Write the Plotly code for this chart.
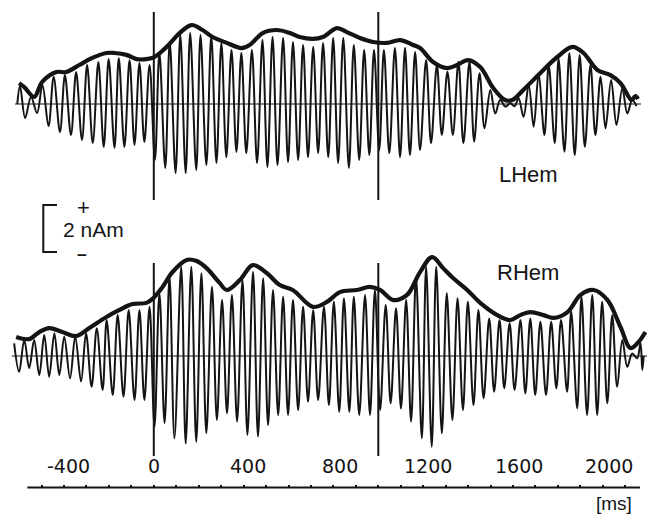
import plotly.graph_objects as go

# ---------------- data (time in ms, amplitude in nAm) ----------------
lh_t = [-608, -596, -573, -547, -520, -496, -469, -446, -418, -396, -369, -346, -320, -297,
        -272, -247, -223, -201, -175, -156, -131, -108, -86, -64, -42, -19, 5, 25, 51, 71,
        97, 118, 142, 162, 189, 208, 234, 256, 279, 301, 323, 346, 368, 390, 412, 437,
        460, 484, 506, 529, 551, 576, 598, 620, 643, 665, 687, 710, 732, 754, 777, 799,
        821, 844, 869, 891, 915, 937, 960, 981, 1004, 1025, 1049, 1074, 1097, 1119, 1141,
        1164, 1186, 1213, 1235, 1261, 1283, 1308, 1332, 1357, 1379, 1406, 1427, 1451,
        1473, 1499, 1521, 1543, 1566, 1588, 1607, 1625, 1647, 1670, 1692, 1714, 1740,
        1759, 1786, 1803, 1829, 1851, 1875, 1897, 1920, 1945, 1967, 1990, 2012, 2037,
        2061, 2087, 2109, 2131, 2150]
lh_v = [0, 0.77, -0.60, 0.30, -0.38, 0.81, -0.94, 1.15, -1.19, 1.23, -1.32, 1.36, -1.53, 1.66,
        -1.66, 1.79, -1.83, 1.91, -1.87, 1.96, -1.83, 1.87, -1.74, 1.74, -1.62, 1.66, -2.38,
        2.17, -2.72, 2.64, -2.94, 2.94, -2.94, 3.02, -2.81, 2.94, -2.60, 2.89, -2.51, 2.60,
        -2.26, 2.30, -2.04, 2.17, -2.09, 2.30, -2.51, 2.72, -2.68, 2.85, -2.60, 2.81, -2.47,
        2.64, -2.38, 2.51, -2.26, 2.43, -2.09, 2.60, -2.26, 2.81, -2.51, 2.81, -2.72, 2.51,
        -2.38, 2.30, -2.17, 2.30, -1.96, 2.30, -2.09, 2.38, -2.26, 2.38, -2.17, 2.21, -1.96,
        1.87, -1.67, 1.66, -1.32, 1.37, -1.32, 1.80, -1.67, 1.80, -1.60, 1.31, -1.03, 0.60,
        -0.40, 0.17, -0.11, 0.03, -0.09, 0.24, -0.54, 0.81, -0.97, 1.23, -1.32, 1.66, -1.67,
        1.94, -2.03, 2.16, -2.17, 2.09, -1.82, 1.66, -1.32, 1.16, -1.03, 1.02, -0.89, 0.67,
        -0.40, 0.17, -0.09]

lh_env_t = [-600, -577, -533, -497, -434, -390, -332, -274, -211, -175, -122, -77, -33, 3,
            57, 115, 168, 217, 262, 325, 391, 427, 485, 548, 606, 650, 709, 753, 816, 860,
            918, 977, 1039, 1097, 1155, 1186, 1244, 1307, 1351, 1400, 1454, 1512, 1565,
            1597, 1646, 1722, 1797, 1865, 1914, 1976, 2034, 2079, 2128, 2145, 2157]
lh_env_v = [0.89, 0.72, 0.30, 0.94, 1.36, 1.36, 1.66, 1.96, 2.17, 2.17, 2.09, 1.91, 1.91, 2.00,
            2.43, 3.02, 3.36, 3.15, 2.85, 2.60, 2.38, 2.51, 3.02, 3.15, 3.02, 2.85, 2.77, 2.85,
            3.23, 3.06, 2.81, 2.64, 2.60, 2.72, 2.51, 2.38, 1.79, 1.53, 1.66, 1.87, 1.57, 0.68,
            0.17, 0.17, 0.60, 1.32, 2.00, 2.43, 2.17, 1.45, 1.23, 0.89, 0.17, 0.34, 0.21]

rh_t = [-622, -600, -577, -555, -533, -510, -488, -466, -443, -421, -399, -373, -350, -324,
        -302, -277, -254, -228, -210, -183, -161, -135, -112, -86, -64, -42, -19, 3, 25, 48,
        70, 92, 122, 142, 167, 189, 212, 234, 259, 281, 304, 326, 348, 371, 395, 417, 442,
        464, 487, 509, 531, 554, 576, 598, 620, 643, 665, 687, 710, 732, 758, 780, 802, 826,
        847, 871, 891, 915, 941, 963, 985, 1008, 1033, 1055, 1079, 1101, 1124, 1146, 1168,
        1194, 1213, 1238, 1258, 1283, 1305, 1330, 1353, 1377, 1399, 1424, 1446, 1469, 1494,
        1516, 1540, 1561, 1585, 1607, 1633, 1655, 1677, 1699, 1722, 1747, 1770, 1793, 1814,
        1841, 1859, 1886, 1905, 1930, 1953, 1975, 1997, 2020, 2042, 2064, 2087, 2109, 2131,
        2153, 2168, 2176, 2182]
rh_v = [0.54, -0.67, 0.68, -0.52, 0.68, -0.81, 0.89, -0.88, 0.97, -0.81, 0.82, -0.95, 0.82,
        -1.09, 0.97, -1.31, 1.18, -1.45, 1.53, -1.66, 1.74, -1.73, 1.96, -1.87, 1.96, -1.87,
        2.10, -3.01, 2.67, -2.86, 3.37, -3.50, 3.80, -3.72, 3.80, -3.65, 3.52, -3.29, 2.95,
        -2.72, 2.38, -2.44, 2.60, -2.79, 3.23, -3.36, 3.59, -3.43, 3.31, -2.94, 2.81, -2.51,
        2.52, -2.51, 2.38, -2.30, 2.10, -1.94, 1.96, -1.87, 2.10, -2.09, 2.31, -2.37, 2.46,
        -2.37, 2.52, -2.51, 2.60, -2.51, 2.81, -2.30, 2.17, -2.01, 2.03, -2.23, 2.38, -2.79,
        3.37, -3.50, 3.80, -3.86, 3.80, -3.29, 2.67, -2.72, 2.46, -2.30, 2.31, -2.09, 1.96,
        -1.80, 1.60, -1.52, 1.53, -1.37, 1.39, -1.45, 1.53, -1.59, 1.60, -1.66, 1.46, -1.66,
        1.46, -1.37, 1.53, -1.52, 1.89, -2.23, 2.52, -2.51, 2.60, -2.51, 2.31, -2.01, 1.74,
        -1.31, 0.68, -0.46, 0.11, -0.10, 0.54, -0.60, 0.0]

rh_env_t = [-613, -555, -510, -466, -408, -345, -287, -211, -153, -95, -33, -6, 39, 83, 146,
            191, 235, 293, 325, 383, 441, 503, 561, 619, 709, 771, 829, 905, 963, 1008, 1066,
            1128, 1186, 1240, 1289, 1333, 1396, 1454, 1530, 1588, 1632, 1677, 1736, 1780,
            1843, 1901, 1959, 2021, 2079, 2123, 2155, 2190]
rh_env_v = [0.81, 0.72, 1.02, 1.19, 1.02, 0.85, 1.19, 1.66, 1.96, 2.21, 2.26, 2.43, 2.94, 3.57,
            4.09, 4.04, 3.74, 3.11, 2.81, 3.23, 3.87, 3.53, 3.02, 2.81, 2.09, 2.30, 2.72, 2.81,
            2.94, 2.81, 2.38, 2.60, 3.57, 4.21, 3.74, 3.32, 2.81, 2.26, 1.74, 1.53, 1.74, 1.87,
            1.74, 1.62, 1.87, 2.60, 2.81, 2.38, 1.23, 0.34, 0.55, 1.02]

event_ms = [0, 1000]
minor_ticks = list(range(-500, 2101, 100))
tick_vals = [-400, 0, 400, 800, 1200, 1600, 2000]
tick_text = ["-400", "0", "400", "800", "1200", "1600", "2000"]
scale_nAm = 2
panel_names = ["LHem", "RHem"]

# ---------------- figure ----------------
W, H = 647, 521
INK = "#141414"
PX_PER_MS = 0.2245
X0_PX = 153.8
PX_PER_NAM = 23.5

def yr(base_px):
    return [-(H - base_px) / PX_PER_NAM, base_px / PX_PER_NAM]

fig = go.Figure()
for t, v, env_t, env_v, ax in [(lh_t, lh_v, lh_env_t, lh_env_v, "y"),
                               (rh_t, rh_v, rh_env_t, rh_env_v, "y2")]:
    fig.add_trace(go.Scatter(x=t, y=v, mode="lines", yaxis=ax, hoverinfo="skip",
                             line=dict(color=INK, width=2.0, shape="spline", smoothing=1.0)))
    fig.add_trace(go.Scatter(x=env_t, y=env_v, mode="lines", yaxis=ax, hoverinfo="skip",
                             line=dict(color=INK, width=4.2, shape="spline", smoothing=1.0)))

shapes = []
# zero baselines
for t, ref in [(lh_t, "y"), (rh_t, "y2")]:
    shapes.append(dict(type="line", xref="x", yref=ref, x0=min(t) - 10, x1=max(t) + 20, y0=0, y1=0,
                       line=dict(color=INK, width=1), layer="below"))
# stimulus lines
for ev in event_ms:
    shapes.append(dict(type="line", xref="x", yref="y", x0=ev, x1=ev, y0=(104 - 200) / PX_PER_NAM,
                       y1=(104 - 12) / PX_PER_NAM, line=dict(color=INK, width=2)))
    shapes.append(dict(type="line", xref="x", yref="y2", x0=ev, x1=ev, y0=(356 - 456) / PX_PER_NAM,
                       y1=(356 - 263) / PX_PER_NAM, line=dict(color=INK, width=2)))
# time axis line
axis_y = (H - 487.5) / H
shapes.append(dict(type="line", xref="paper", yref="paper", x0=27.3 / W, x1=640 / W,
                   y0=axis_y, y1=axis_y, line=dict(color=INK, width=2)))
# scale bar bracket (2 nAm)
bt = -4.30
bb = bt - scale_nAm
bx0, bx1 = 43.3 / W, 57 / W
shapes.append(dict(type="path", xref="paper", yref="y",
                   path=f"M {bx1},{bt} L {bx0},{bt} L {bx0},{bb} L {bx1},{bb}",
                   line=dict(color=INK, width=2)))


def label(x, y, text, size, family="Liberation Sans", xref="paper", dx=0):
    return dict(x=x, y=y, xref=xref, yref="paper", text=text, showarrow=False,
                xanchor="center", yanchor="middle", xshift=dx,
                font=dict(family=family, size=size, color=INK))


ann = []
for val, txt, dx in zip(tick_vals, tick_text, [4, 0, 4, 7, 5, 6, 6]):
    ann.append(label(val, (H - 466) / H, txt, 19, family="DejaVu Sans", xref="x", dx=dx))
ann.append(label(614 / W, (H - 503) / H, "[ms]", 19))
ann.append(label(528 / W, (H - 174) / H, panel_names[0], 22))
ann.append(label(527.5 / W, (H - 272) / H, panel_names[1], 22))
ann.append(label(83.3 / W, (H - 207) / H, "+", 22))
ann.append(label(93 / W, (H - 229.5) / H, f"{scale_nAm} nAm", 21))
ann.append(label(82.5 / W, (H - 255) / H, "<b>\u2212</b>", 17))

fig.update_layout(
    width=W, height=H, margin=dict(l=0, r=0, t=0, b=0),
    paper_bgcolor="white", plot_bgcolor="white", showlegend=False,
    xaxis=dict(range=[-X0_PX / PX_PER_MS, (W - X0_PX) / PX_PER_MS], domain=[0, 1],
               showgrid=False, zeroline=False, showline=False,
               tickmode="array", tickvals=minor_ticks, showticklabels=False,
               ticks="inside", ticklen=3, tickwidth=1.5, tickcolor=INK,
               anchor="free", position=axis_y),
    yaxis=dict(range=yr(104), domain=[0, 1], visible=False, fixedrange=True),
    yaxis2=dict(range=yr(356), overlaying="y", visible=False, fixedrange=True),
    shapes=shapes, annotations=ann,
)

fig.write_html("out.html", config={"displayModeBar": False},
               post_script="document.body.style.margin='0';document.body.style.overflow='hidden';")
